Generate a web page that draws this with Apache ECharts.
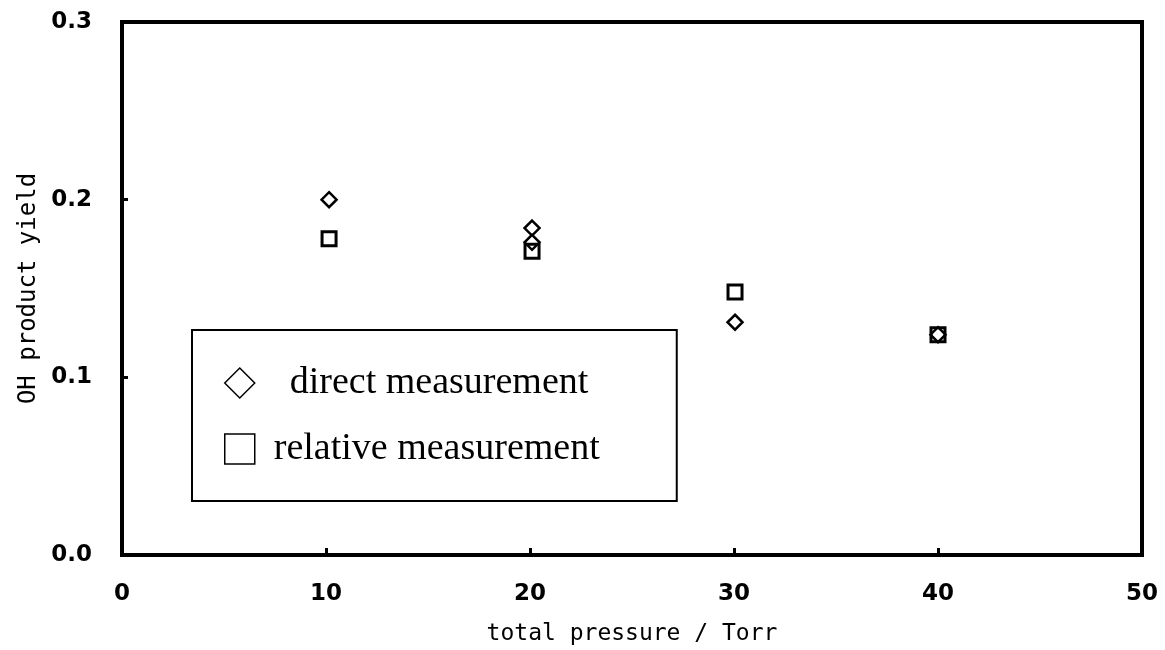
<!DOCTYPE html>
<html style="height: 100%">
<head>
	<meta charset="utf-8">
</head>
<body style="height: 100%; margin: 0; background: #fff">
	<div id="container" style="width: 1165px; height: 650px"></div>
	<script type="text/javascript" src="https://cdn.jsdelivr.net/npm/echarts@6/dist/echarts.min.js"></script>
	<script type="text/javascript">
		// data
		let pressure = [10.15, 20.1, 20.1, 30.05, 40];
		let directYield = [0.200, 0.184, 0.176, 0.131, 0.124];
		let relPressure = [10.15, 20.1, 30.05, 40];
		let relativeYield = [0.178, 0.171, 0.148, 0.124];
		let xTicks = [0, 10, 20, 30, 40, 50];
		let yTicks = [0.0, 0.1, 0.2, 0.3];

		let directData = pressure.map((p, i) => [p, directYield[i]]);
		let relativeData = relPressure.map((p, i) => [p, relativeYield[i]]);

		let dom = document.getElementById("container");
		let myChart = echarts.init(dom);

		let sansFont = '"DejaVu Sans", "Liberation Sans", sans-serif';
		let monoFont = '"DejaVu Sans Mono", "Liberation Mono", monospace';
		let serifFont = '"Liberation Serif", "DejaVu Serif", serif';

		let legendIcon = { color: '#fff', borderColor: '#000', borderWidth: 1.5 };

		let option = {
			backgroundColor: '#fff',
			animation: false,
			grid: {
				left: 122, right: 23, top: 22, bottom: 95,
				outerBoundsMode: 'none',
				show: true,
				borderColor: '#000',
				borderWidth: 4
			},
			legend: {
				orient: 'vertical',
				left: 192,
				top: 330,
				padding: [34, 77, 33, 32],
				borderColor: '#000',
				borderWidth: 2,
				backgroundColor: '#fff',
				itemWidth: 30,
				itemHeight: 30,
				itemGap: 28,
				textStyle: {
					fontFamily: serifFont,
					fontSize: 38,
					color: '#000',
					rich: {
						d: { fontFamily: serifFont, fontSize: 38, color: '#000', padding: [0, 0, 0, 30] },
						r: { fontFamily: serifFont, fontSize: 38, color: '#000', padding: [0, 0, 0, 14] }
					}
				},
				formatter: function (name) {
					return name === 'direct measurement' ? '{d|' + name + '}' : '{r|' + name + '}';
				},
				data: [
					{ name: 'direct measurement', icon: 'diamond', itemStyle: legendIcon },
					{ name: 'relative measurement', icon: 'rect', itemStyle: legendIcon }
				]
			},
			xAxis: {
				type: 'value',
				min: xTicks[0],
				max: xTicks[xTicks.length - 1],
				interval: 10,
				name: 'total pressure / Torr',
				nameLocation: 'middle',
				nameGap: 68,
				nameTextStyle: { fontFamily: monoFont, fontSize: 23, color: '#000' },
				axisLine: { lineStyle: { color: '#000', width: 4 } },
				axisTick: { inside: true, length: 7, lineStyle: { color: '#000', width: 3 } },
				axisLabel: { margin: 28, fontFamily: sansFont, fontSize: 23, fontWeight: 'bold', color: '#000' },
				splitLine: { show: false }
			},
			yAxis: {
				type: 'value',
				min: yTicks[0],
				max: yTicks[yTicks.length - 1],
				interval: 0.1,
				name: 'OH product yield',
				nameLocation: 'middle',
				nameGap: 80,
				nameTextStyle: { fontFamily: monoFont, fontSize: 24, color: '#000' },
				axisLine: { lineStyle: { color: '#000', width: 4 } },
				axisTick: { inside: true, length: 6, lineStyle: { color: '#000', width: 3 } },
				axisLabel: {
					margin: 30,
					fontFamily: sansFont, fontSize: 23, fontWeight: 'bold', color: '#000',
					formatter: v => v.toFixed(1)
				},
				splitLine: { show: false }
			},
			series: [
				{
					name: 'direct measurement',
					type: 'scatter',
					symbol: 'diamond',
					symbolSize: 15,
					itemStyle: { color: '#fff', borderColor: '#000', borderWidth: 2.5, opacity: 1 },
					data: directData,
					z: 3
				},
				{
					name: 'relative measurement',
					type: 'scatter',
					symbol: 'rect',
					symbolSize: 14,
					itemStyle: { color: 'rgba(255,255,255,0)', borderColor: '#000', borderWidth: 3, opacity: 1 },
					data: relativeData,
					z: 4
				}
			]
		};

		myChart.setOption(option);
	</script>
</body>
</html>
